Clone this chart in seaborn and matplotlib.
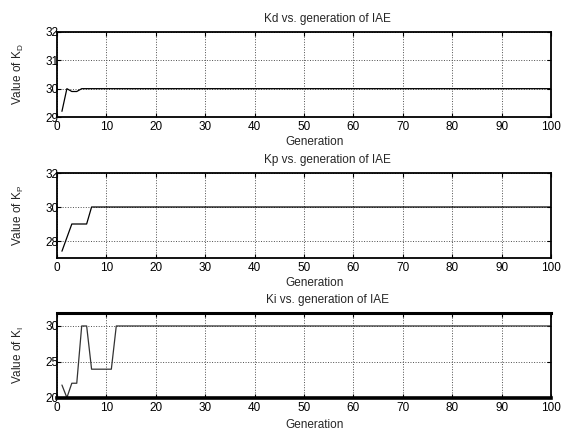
import matplotlib
matplotlib.use("Agg")
import matplotlib.pyplot as plt
import seaborn as sns
import pandas as pd
import numpy as np

# ---- data ----
generations = list(range(1, 101))
kd_values = [29.2, 30.0, 29.9, 29.9, 30.0] + [30.0] * 95
kp_values = [27.4, 28.2, 29.0, 29.0, 29.0, 29.0, 30.0] + [30.0] * 93
ki_values = [21.8, 20.05, 22.05, 22.05, 30.0, 30.0, 24.0, 24.0, 24.0, 24.0, 24.0, 30.0] + [30.0] * 88

titles = ["Kd vs. generation of IAE", "Kp vs. generation of IAE", "Ki vs. generation of IAE"]
ylabels = ["Value of K$_\\mathregular{D}$", "Value of K$_\\mathregular{P}$", "Value of K$_\\mathregular{I}$"]
xlabel_text = "Generation"
xticks = [0, 10, 20, 30, 40, 50, 60, 70, 80, 90, 100]
yticks_list = [[29, 30, 31, 32], [28, 30, 32], [20, 25, 30]]
ylims = [(29, 32), (27, 32), (20, 31.8)]

sns.set_style("ticks")
plt.rcParams['font.family'] = ['Liberation Sans', 'DejaVu Sans']
plt.rcParams['mathtext.fontset'] = 'custom'
plt.rcParams['mathtext.rm'] = 'Liberation Sans'
plt.rcParams['mathtext.it'] = 'Liberation Sans:italic'

fig = plt.figure(figsize=(5.71, 4.30), dpi=100)
W, H = 571, 430
left_px, right_px = 57, 551
tops = [32, 173, 313]
bottoms = [117, 258, 398]
xlabel_y = [-0.22, -0.22, -0.245]

series = [kd_values, kp_values, ki_values]
line_colors = ["black", "black", "0.2"]
fs = 8.5
for i in range(3):
    ax = fig.add_axes([left_px / W, 1 - bottoms[i] / H, (right_px - left_px) / W, (bottoms[i] - tops[i]) / H])
    df = pd.DataFrame({"Generation": generations, "Value": series[i]})
    sns.lineplot(data=df, x="Generation", y="Value", ax=ax, color=line_colors[i],
                 linewidth=0.9, estimator=None)
    ax.set_xlim(0, 100)
    ax.set_ylim(*ylims[i])
    ax.set_xticks(xticks)
    ax.set_yticks(yticks_list[i])
    ax.set_xticklabels([str(t) for t in xticks], fontsize=fs)
    ax.set_yticklabels([str(t) for t in yticks_list[i]], fontsize=fs)
    ax.grid(True, linestyle=':', color='0.3', linewidth=0.7)
    ax.tick_params(direction='in', length=3, width=0.8, top=True, right=True,
                   colors='black')
    ax.tick_params(axis='y', pad=-1)
    ax.tick_params(axis='x', pad=3.2)
    for s in ax.spines.values():
        s.set_linewidth(1.3)
        s.set_color('black')
    if i == 2:
        ax.spines['top'].set_linewidth(2.2)
        ax.spines['bottom'].set_linewidth(2.6)
    ax.set_xlabel(xlabel_text, fontsize=fs)
    ax.xaxis.set_label_coords(0.522, xlabel_y[i])
    ax.set_ylabel(ylabels[i], fontsize=fs)
    ax.yaxis.set_label_coords(-0.062, 0.5)
    ax.set_title(titles[i], fontsize=fs, pad=7, x=0.547)

fig.savefig("out.png", dpi=100)
